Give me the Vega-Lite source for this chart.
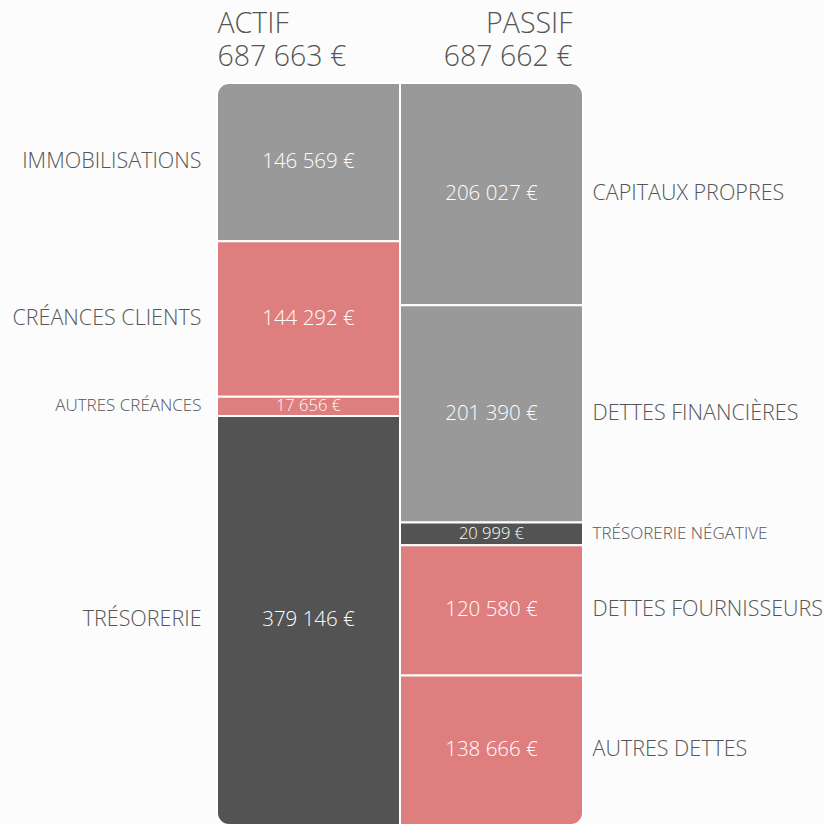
{
  "$schema": "https://vega.github.io/schema/vega-lite/v6.json",
  "autosize": "none",
  "width": 366,
  "height": 742,
  "padding": {"left": 217, "top": 83, "right": 241, "bottom": 0},
  "background": "#fcfcfc",
  "config": {
    "view": {"stroke": null},
    "locale": {"number": {"decimal": ",", "thousands": " ", "grouping": [3], "currency": ["", " €"]}},
    "text": {"font": "Open Sans", "fontWeight": 300}
  },
  "data": {
    "values": [
      {"side": "ACTIF", "order": 1, "item": "IMMOBILISATIONS", "type": "stable", "value": 146569},
      {"side": "ACTIF", "order": 2, "item": "CRÉANCES CLIENTS", "type": "exploitation", "value": 144292},
      {"side": "ACTIF", "order": 3, "item": "AUTRES CRÉANCES", "type": "exploitation", "value": 17656},
      {"side": "ACTIF", "order": 4, "item": "TRÉSORERIE", "type": "tresorerie", "value": 379146},
      {"side": "PASSIF", "order": 1, "item": "CAPITAUX PROPRES", "type": "stable", "value": 206027},
      {"side": "PASSIF", "order": 2, "item": "DETTES FINANCIÈRES", "type": "stable", "value": 201390},
      {"side": "PASSIF", "order": 3, "item": "TRÉSORERIE NÉGATIVE", "type": "tresorerie", "value": 20999},
      {"side": "PASSIF", "order": 4, "item": "DETTES FOURNISSEURS", "type": "exploitation", "value": 120580},
      {"side": "PASSIF", "order": 5, "item": "AUTRES DETTES", "type": "exploitation", "value": 138666}
    ]
  },
  "transform": [
    {"stack": "value", "groupby": ["side"], "sort": [{"field": "order", "order": "ascending"}], "as": ["v0", "v1"]},
    {"calculate": "(datum.v0 + datum.v1) / 2", "as": "mid"},
    {"calculate": "format(datum.value, ',d') + ' €'", "as": "label"}
  ],
  "encoding": {
    "x": {"field": "side", "type": "nominal", "axis": null, "sort": ["ACTIF", "PASSIF"],
          "scale": {"paddingInner": 0, "paddingOuter": 0}}
  },
  "layer": [
    {
      "mark": {
        "type": "bar", "stroke": "white", "strokeWidth": 2,
        "cornerRadiusTopLeft": {"expr": "datum.item === 'IMMOBILISATIONS' ? 12 : 0"},
        "cornerRadiusTopRight": {"expr": "datum.item === 'CAPITAUX PROPRES' ? 12 : 0"},
        "cornerRadiusBottomLeft": {"expr": "datum.item === 'TRÉSORERIE' ? 12 : 0"},
        "cornerRadiusBottomRight": {"expr": "datum.item === 'AUTRES DETTES' ? 12 : 0"}
      },
      "encoding": {
        "y": {"field": "v0", "type": "quantitative", "axis": null,
              "scale": {"domain": [0, 687663], "reverse": true, "nice": false, "zero": false}},
        "y2": {"field": "v1"},
        "color": {"field": "type", "type": "nominal", "legend": null,
                  "scale": {"domain": ["stable", "exploitation", "tresorerie"], "range": ["#999999", "#DF7E7E", "#535353"]}}
      }
    },
    {
      "mark": {"type": "text", "color": "white", "align": "center", "baseline": "middle"},
      "encoding": {
        "y": {"field": "mid", "type": "quantitative"},
        "text": {"field": "label"},
        "size": {"condition": {"test": "datum.value < 50000", "value": 16.5}, "value": 20.5}
      }
    },
    {
      "transform": [{"filter": "datum.side === 'ACTIF'"}],
      "mark": {"type": "text", "color": "#555555", "align": "right", "baseline": "middle", "dx": -107},
      "encoding": {
        "y": {"field": "mid", "type": "quantitative"},
        "text": {"field": "item"},
        "size": {"condition": {"test": "datum.value < 50000", "value": 17}, "value": 21.5}
      }
    },
    {
      "transform": [{"filter": "datum.side === 'PASSIF'"}],
      "mark": {"type": "text", "color": "#555555", "align": "left", "baseline": "middle", "dx": 101},
      "encoding": {
        "y": {"field": "mid", "type": "quantitative"},
        "text": {"field": "item"},
        "size": {"condition": {"test": "datum.value < 50000", "value": 17}, "value": 21.5}
      }
    },
    {
      "transform": [
        {"filter": "datum.side === 'ACTIF'"},
        {"aggregate": [{"op": "sum", "field": "value", "as": "total"}], "groupby": ["side"]},
        {"calculate": "format(datum.total, ',d') + ' €'", "as": "totlabel"}
      ],
      "encoding": {"y": {"datum": 0, "type": "quantitative"}},
      "layer": [
        {
          "mark": {"type": "text", "color": "#555555", "align": "left", "baseline": "middle", "dx": -91, "dy": -59, "fontSize": 28.5},
          "encoding": {"text": {"field": "side"}}
        },
        {
          "mark": {"type": "text", "color": "#555555", "align": "left", "baseline": "middle", "dx": -91, "dy": -26, "fontSize": 28.5},
          "encoding": {"text": {"field": "totlabel"}}
        }
      ]
    },
    {
      "transform": [
        {"filter": "datum.side === 'PASSIF'"},
        {"aggregate": [{"op": "sum", "field": "value", "as": "total"}], "groupby": ["side"]},
        {"calculate": "format(datum.total, ',d') + ' €'", "as": "totlabel"}
      ],
      "encoding": {"y": {"datum": 0, "type": "quantitative"}},
      "layer": [
        {
          "mark": {"type": "text", "color": "#555555", "align": "right", "baseline": "middle", "dx": 81, "dy": -59, "fontSize": 28.5},
          "encoding": {"text": {"field": "side"}}
        },
        {
          "mark": {"type": "text", "color": "#555555", "align": "right", "baseline": "middle", "dx": 81, "dy": -26, "fontSize": 28.5},
          "encoding": {"text": {"field": "totlabel"}}
        }
      ]
    }
  ]
}
